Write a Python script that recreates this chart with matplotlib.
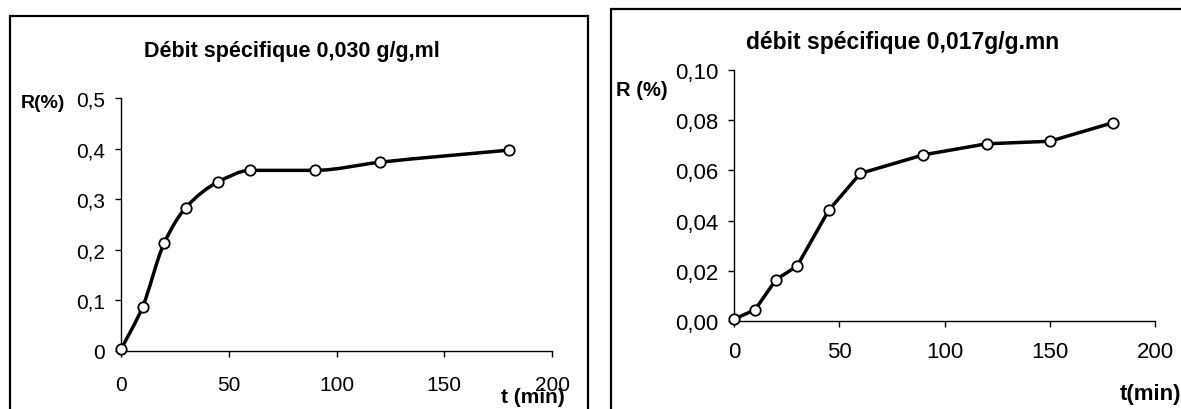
import numpy as np
import matplotlib.pyplot as plt
from matplotlib.path import Path
from matplotlib.patches import PathPatch, Rectangle
from matplotlib.ticker import FixedLocator, FuncFormatter

plt.rcParams['font.family'] = ['Liberation Sans', 'DejaVu Sans']

# donnees
t1 = [0, 10, 20, 30, 45, 60, 90, 120, 180]
r1 = [0.003, 0.087, 0.213, 0.283, 0.334, 0.357, 0.357, 0.373, 0.397]
t2 = [0, 10, 20, 30, 45, 60, 90, 120, 150, 180]
r2 = [0.0007, 0.0045, 0.0165, 0.0219, 0.0441, 0.0588, 0.0662, 0.0706, 0.0716, 0.0790]

xticks = [0, 50, 100, 150, 200]
yticks1 = [0, 0.1, 0.2, 0.3, 0.4, 0.5]
yticks2 = [0, 0.02, 0.04, 0.06, 0.08, 0.10]

title1 = "Débit spécifique 0,030 g/g,ml"
title2 = "débit spécifique 0,017g/g.mn"


def courbe_lisse(x, y):
    # bezier passant par les points, tangentes monotones (pas de depassement)
    x = np.asarray(x, float)
    y = np.asarray(y, float)
    n = len(x)
    d = np.diff(y) / np.diff(x)
    m = np.zeros(n)
    m[0], m[-1] = d[0], d[-1]
    for i in range(1, n - 1):
        if d[i - 1] * d[i] > 0:
            w1 = 2 * (x[i + 1] - x[i]) + (x[i] - x[i - 1])
            w2 = (x[i + 1] - x[i]) + 2 * (x[i] - x[i - 1])
            m[i] = (w1 + w2) / (w1 / d[i - 1] + w2 / d[i])
    verts = [(x[0], y[0])]
    codes = [Path.MOVETO]
    for i in range(n - 1):
        h = x[i + 1] - x[i]
        verts += [(x[i] + h / 3, y[i] + m[i] * h / 3),
                  (x[i + 1] - h / 3, y[i + 1] - m[i + 1] * h / 3),
                  (x[i + 1], y[i + 1])]
        codes += [Path.CURVE4] * 3
    return Path(verts, codes)


W, H = 1181, 410
fig = plt.figure(figsize=(W / 100, H / 100), dpi=100)

# cadres
fig.patches.append(Rectangle((10 / W, -0.1), 578 / W, 1.1 - 17 / H, transform=fig.transFigure,
                             fill=False, lw=1.6, ec='black'))
fig.patches.append(Rectangle((611 / W, -0.1), 0.5, 1.1 - 10 / H, transform=fig.transFigure,
                             fill=False, lw=1.6, ec='black'))

ax1 = fig.add_axes([121 / W, 1 - 352 / H, 431 / W, 253 / H])
ax2 = fig.add_axes([734 / W, 1 - 322 / H, 421 / W, 251 / H])

for ax, fs, px in ((ax1, 15, 13), (ax2, 16, 10)):
    ax.spines['top'].set_visible(False)
    ax.spines['right'].set_visible(False)
    ax.spines['left'].set_linewidth(1.0)
    ax.spines['bottom'].set_linewidth(1.0)
    ax.set_xlim(0, 200)
    ax.xaxis.set_major_locator(FixedLocator(xticks))
    ax.tick_params(direction='out', length=4.5, width=1.0, labelsize=fs)
    ax.tick_params(axis='x', pad=px)
    ax.tick_params(axis='y', pad=7)
    ax.patch.set_visible(False)

ax1.set_ylim(0, 0.5)
ax1.yaxis.set_major_locator(FixedLocator(yticks1))
ax1.yaxis.set_major_formatter(FuncFormatter(lambda v, p: "0" if v == 0 else f"{v:.1f}".replace(".", ",")))
ax1.add_patch(PathPatch(courbe_lisse(t1, r1), fill=False, lw=2.5, ec='black', clip_on=False))
ax1.plot(t1, r1, 'o', ms=7.5, mfc='white', mec='black', mew=1.3, clip_on=False, zorder=5)

ax2.set_ylim(0, 0.10)
ax2.yaxis.set_major_locator(FixedLocator(yticks2))
ax2.yaxis.set_major_formatter(FuncFormatter(lambda v, p: f"{v:.2f}".replace(".", ",")))
ax2.plot(t2, r2, '-o', lw=2.5, color='black', ms=7.5, mfc='white', mec='black', mew=1.3,
         clip_on=False, zorder=5)

fig.text(292 / W, 1 - 52 / H, title1, ha='center', va='center', fontsize=15.5, fontweight='bold')
fig.text(903 / W, 1 - 43 / H, title2, ha='center', va='center', fontsize=16.5, fontweight='bold')
fig.text(21 / W, 1 - 104 / H, "R(%)", ha='left', va='center', fontsize=14, fontweight='bold')
fig.text(616 / W, 1 - 90 / H, "R (%)", ha='left', va='center', fontsize=14.5, fontweight='bold')
fig.text(533 / W, 1 - 398 / H, "t (min)", ha='center', va='center', fontsize=15, fontweight='bold')
fig.text(1120 / W, 1 - 395 / H, "t(min)", ha='left', va='center', fontsize=16, fontweight='bold')

fig.savefig("out.png", dpi=100)
